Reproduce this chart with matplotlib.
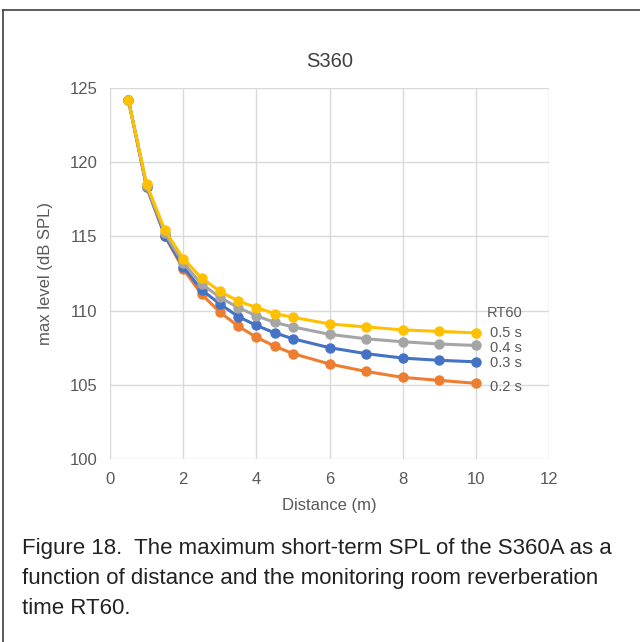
"""Max short-term SPL vs distance for several RT60 values (S360)."""

import matplotlib

matplotlib.use("Agg")
import matplotlib.pyplot as plt
from matplotlib.lines import Line2D

plt.rcParams["font.family"] = ["Liberation Sans", "DejaVu Sans"]

distance = [0.5, 1, 1.5, 2, 2.5, 3, 3.5, 4, 4.5, 5, 6, 7, 8, 9, 10]

rt60_labels = ["0.2 s", "0.3 s", "0.4 s", "0.5 s"]
spl_02 = [124.2, 118.3, 115.0, 112.8, 111.1, 109.9, 108.95, 108.2, 107.6, 107.1, 106.4, 105.9, 105.5, 105.3, 105.1]
spl_03 = [124.2, 118.35, 115.05, 112.95, 111.4, 110.45, 109.6, 109.0, 108.5, 108.1, 107.5, 107.1, 106.8, 106.65, 106.55]
spl_04 = [124.2, 118.4, 115.2, 113.2, 111.8, 110.9, 110.2, 109.65, 109.2, 108.9, 108.4, 108.1, 107.9, 107.75, 107.65]
spl_05 = [124.2, 118.5, 115.4, 113.5, 112.2, 111.3, 110.65, 110.2, 109.8, 109.55, 109.1, 108.9, 108.7, 108.6, 108.5]
series = [spl_02, spl_03, spl_04, spl_05]

colors = ["#ED7D31", "#4472C4", "#A5A5A5", "#FFC000"]
label_dy = [-3, -1, -2, 0]  # small vertical nudges (points) for the end labels

fig = plt.figure(figsize=(6.4, 6.42), dpi=100)
ax = fig.add_axes([0.172, 0.285, 0.686, 0.578])

for values, color in zip(series, colors):
    ax.plot(distance, values, color=color, lw=2.2, marker="o", ms=6.5,
            solid_capstyle="round", zorder=3)

ax.set_xlim(0, 12)
ax.set_ylim(100, 125)
ax.set_xticks(range(0, 13, 2))
ax.set_yticks(range(100, 126, 5))
ax.grid(True, color="#D9D9D9", lw=1)
ax.set_axisbelow(True)
for side in ax.spines.values():
    side.set_visible(False)
ax.tick_params(length=0, labelsize=12, colors="#595959", pad=9)

ax.set_xlabel("Distance (m)", fontsize=12, color="#595959", labelpad=8)
ax.set_ylabel("max level (dB SPL)", fontsize=12, color="#595959", labelpad=12)
ax.set_title("S360", fontsize=14.5, color="#404040", pad=15)

# end-of-line labels (legend replacement)
for values, label, dy in zip(series, rt60_labels, label_dy):
    ax.annotate(label, xy=(distance[-1], values[-1]), xytext=(10, dy),
                textcoords="offset points", va="center", ha="left",
                fontsize=10.5, color="#595959", annotation_clip=False)
ax.annotate("RT60", xy=(distance[-1], spl_05[-1]), xytext=(8, 14),
            textcoords="offset points", va="center", ha="left",
            fontsize=10.5, color="#595959", annotation_clip=False)

caption = ("Figure 18.  The maximum short-term SPL of the S360A as a\n"
           "function of distance and the monitoring room reverberation\n"
           "time RT60.")
fig.text(22 / 640, 1 - 538 / 642, caption, fontsize=16, color="#222222",
         va="top", ha="left", linespacing=1.55)

# partial frame around the figure
fig.add_artist(Line2D([2.5 / 640, 2.5 / 640], [0, 1 - 10 / 642],
                      color="#404040", lw=1.2))
fig.add_artist(Line2D([2.5 / 640, 1], [1 - 10 / 642, 1 - 10 / 642],
                      color="#404040", lw=1.2))

fig.savefig("out.png", dpi=100)
